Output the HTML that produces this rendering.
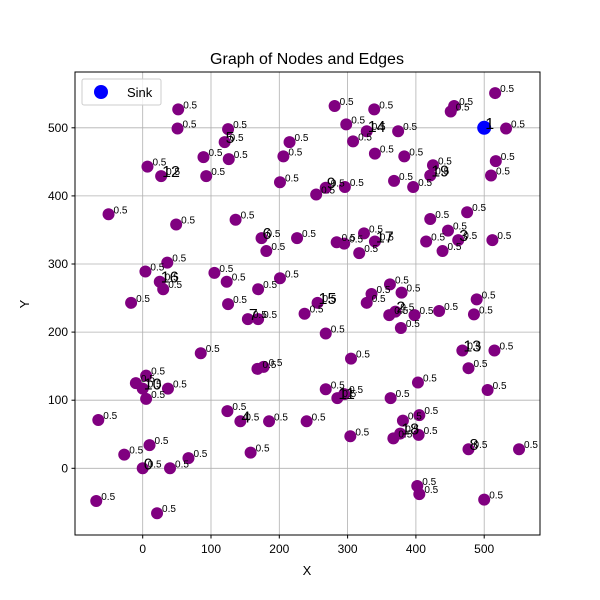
<!DOCTYPE html>
<html><head><meta charset="utf-8"><style>
body{margin:0;background:#fff;}
svg{display:block;font-family:"Liberation Sans","DejaVu Sans",sans-serif;}
</style></head><body>
<svg id="chart" width="600" height="600" viewBox="0 0 600 600" xmlns="http://www.w3.org/2000/svg">
<rect width="600" height="600" fill="#fff"/>
<text x="307" y="64" font-size="16" text-anchor="middle">Graph of Nodes and Edges</text>
<g id="grid"></g>
<g id="marks"></g>
<rect x="75" y="72" width="465" height="463" fill="none" stroke="#000" stroke-width="1"/>
<g id="ticks"></g>
<text x="307" y="575" font-size="13" text-anchor="middle">X</text>
<text x="29" y="304" font-size="13" text-anchor="middle" transform="rotate(-90 29 304)">Y</text>
<g>
<rect x="82" y="79" width="79" height="26" rx="2" fill="#fff" fill-opacity="0.8" stroke="#ccc"/>
<circle cx="101" cy="92" r="7" fill="#0000ff"/>
<text x="127" y="97" font-size="13">Sink</text>
</g>
</svg>
<script>
const xs=[52,51,125,120,89,126,215,206,201,7,27,93,-50,49,136,174,181,226,36,4,25,30,105,123,201,169,-17,125,
281,339,298,328,308,374,340,383,456,451,516,532,517,510,425,421,368,396,254,268,296,475,421,447,462,415,439,512,324,340,284,295,317,362,335,379,328,489,256,
361,370,398,434,485,378,268,468,515,477,305,403,268,285,295,363,505,240,304,381,405,367,377,404,477,551,402,405,500,
154,169,237,85,168,177,5,-10,0,37,5,-65,124,143,185,10,-27,67,158,0,40,-68,21];
const ys=[527,499,498,479,457,454,479,458,420,443,429,429,373,358,365,338,319,338,302,289,274,263,287,274,279,263,243,241,
532,527,505,495,480,495,462,458,532,524,551,499,451,430,445,430,422,413,402,412,413,376,366,349,335,333,319,335,345,333,332,330,316,270,256,258,243,248,243,
225,230,225,231,226,206,198,173,173,147,161,126,116,103,109,103,115,69,47,70,78,44,51,49,28,28,-26,-38,-46,
219,219,227,169,146,149,136,125,117,117,102,71,84,69,69,34,20,15,23,0,0,-48,-66];
const weights=xs.map(()=>"0.5");
const sinkX=[500], sinkY=[500];
const nodeIds=["0","1","2","3","4","5","6","7","8","9","10","11","12","13","14","15","16","17","18","19"];
const nodeX=[0,500,370,462,143,120,174,154,477,268,0,285,27,468,328,256,25,340,377,421];
const nodeY=[0,500,230,335,69,479,338,219,28,412,117,103,429,173,495,243,274,333,51,430];
const xTicks=[0,100,200,300,400,500];
const yTicks=[0,100,200,300,400,500];

const NS="http://www.w3.org/2000/svg";
function X(v){return 142.7+v*0.683;}
function Y(v){return 468.3-v*0.681;}
function mk(tag,attrs,parent){const e=document.createElementNS(NS,tag);for(const k in attrs)e.setAttribute(k,attrs[k]);parent.appendChild(e);return e;}
const grid=document.getElementById('grid'),ticks=document.getElementById('ticks'),marks=document.getElementById('marks');
xTicks.forEach(t=>{
 const g=mk('line',{x1:X(t),x2:X(t),y1:72,y2:535,stroke:'#b0b0b0','stroke-width':0.8},grid);
 
 
 const tk=mk('line',{x1:X(t),x2:X(t),y1:535,y2:538.5,stroke:'#000'},ticks);
 
 
 const tl=mk('text',{x:X(t),y:553,'font-size':12,'text-anchor':'middle'},ticks);
 tl.textContent=t;
 
 
});
yTicks.forEach(t=>{
 const g=mk('line',{x1:75,x2:540,y1:Y(t),y2:Y(t),stroke:'#b0b0b0','stroke-width':0.8},grid);
 
 
 const tk=mk('line',{x1:71.5,x2:75,y1:Y(t),y2:Y(t),stroke:'#000'},ticks);
 
 
 const tl=mk('text',{x:68,y:Y(t)+4,'font-size':12,'text-anchor':'end'},ticks);
 tl.textContent=t;
 
 
});
xs.forEach((v,i)=>{
 const c=mk('circle',{cx:X(v),cy:Y(ys[i]),r:6,fill:'#800080'},marks);
 
 
});
sinkX.forEach((v,i)=>{
 const c=mk('circle',{cx:X(v),cy:Y(sinkY[i]),r:7,fill:'#0000ff'},marks);
 
 
});
xs.forEach((v,i)=>{
 const t=mk('text',{x:X(v)+5,y:Y(ys[i])-1,'font-size':10},marks);
 t.textContent=weights[i];
 
 
});
nodeIds.forEach((id,i)=>{
 const t=mk('text',{x:X(nodeX[i])+1,y:Y(nodeY[i])+1,'font-size':16},marks);
 t.textContent=id;
 
 
});
</script>
</body></html>
